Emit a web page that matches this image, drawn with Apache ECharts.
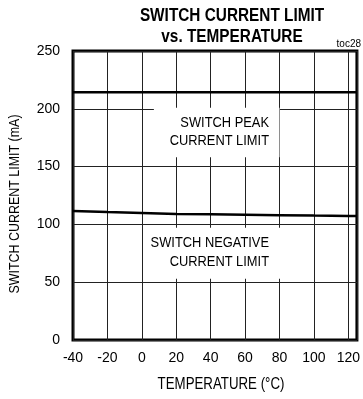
<!DOCTYPE html>
<html>
<head>
<meta charset="utf-8">
<script src="https://cdn.jsdelivr.net/npm/echarts@6/dist/echarts.min.js"></script>
<style>
  html, body { margin: 0; padding: 0; background: #fff; }
  #chart { width: 363px; height: 399px; }
</style>
</head>
<body>
<div id="chart"></div>
<script>
// Temperature sweep (°C) and measured switch current limits (mA)
const temps = [-40, -20, 0, 20, 40, 60, 80, 100, 120, 125];
const peakLimit = [214.3, 214.3, 214.3, 214.3, 214.3, 214.3, 214.3, 214.3, 214.3, 214.3];
const negativeLimit = [111.6, 110.7, 109.9, 109.0, 108.8, 108.4, 108.0, 107.6, 107.3, 107.2];

// Axis settings
const xTicks = { min: -40, max: 125, step: 20 };
const yTicks = { min: 0, max: 250, step: 50 };

// Text
const titleLines = ['SWITCH CURRENT LIMIT', 'vs. TEMPERATURE'];
const xName = 'TEMPERATURE (°C)';
const yName = 'SWITCH CURRENT LIMIT (mA)';
const peakLines = ['SWITCH PEAK', 'CURRENT LIMIT'];
const negativeLines = ['SWITCH NEGATIVE', 'CURRENT LIMIT'];

const FONT = '"Liberation Sans", Arial, sans-serif';
const NARROW = 0.83;   // horizontal squeeze for a narrow-face look

const pairs = (ys) => temps.map((t, i) => [t, ys[i]]);

// Horizontally condensed text element
function narrowText(x, y, text, font, align, rotation) {
  return {
    type: 'text', z: 20, x: x, y: y, rotation: rotation || 0,
    scaleX: NARROW, scaleY: 1,
    style: { x: 0, y: 0, text: text, align: align || 'center', verticalAlign: 'middle', font: font, fill: '#000' }
  };
}

const chart = echarts.init(document.getElementById('chart'), null, { renderer: 'canvas' });

chart.setOption({
  animation: false,
  backgroundColor: '#fff',
  textStyle: { fontFamily: FONT, color: '#000' },
  grid: {
    left: 73, right: 1, top: 51, bottom: 59,
    show: true, borderColor: '#000', borderWidth: 3, backgroundColor: 'transparent'
  },
  graphic: [
    narrowText(232, 16, titleLines[0], 'bold 18.5px ' + FONT),
    narrowText(232, 37, titleLines[1], 'bold 18.5px ' + FONT),
    {
      type: 'text', z: 20, x: 361, y: 44,
      style: { x: 0, y: 0, text: 'toc28', align: 'right', verticalAlign: 'middle', font: '10px ' + FONT, fill: '#000' }
    },
    narrowText(15, 204, yName, '15px ' + FONT, 'center', Math.PI / 2),
    narrowText(221, 385, xName, '16px ' + FONT),
    narrowText(269, 123, peakLines[0], '15.5px ' + FONT, 'right'),
    narrowText(269, 141, peakLines[1], '15.5px ' + FONT, 'right'),
    narrowText(269, 243, negativeLines[0], '15.5px ' + FONT, 'right'),
    narrowText(269, 262, negativeLines[1], '15.5px ' + FONT, 'right')
  ],
  xAxis: {
    type: 'value',
    min: xTicks.min, max: xTicks.max, interval: xTicks.step,
    axisLine: { show: false },
    axisTick: { show: false },
    axisLabel: {
      fontSize: 14, color: '#000', margin: 11, fontFamily: FONT,
      formatter: (v) => (v % xTicks.step === 0 ? String(v) : '')
    },
    splitLine: { show: true, lineStyle: { color: '#222', width: 1 } }
  },
  yAxis: {
    type: 'value',
    min: yTicks.min, max: yTicks.max, interval: yTicks.step,
    axisLine: { show: false },
    axisTick: { show: false },
    axisLabel: { fontSize: 14, color: '#000', margin: 13, fontFamily: FONT },
    splitLine: { show: true, lineStyle: { color: '#222', width: 1 } }
  },
  series: [
    {
      name: 'peak',
      type: 'line',
      data: pairs(peakLimit),
      showSymbol: false,
      lineStyle: { color: '#000', width: 2.5 },
      z: 5
    },
    {
      name: 'negative',
      type: 'line',
      data: pairs(negativeLimit),
      showSymbol: false,
      lineStyle: { color: '#000', width: 2.5 },
      z: 5,
      // white panels behind the curve annotations
      markArea: {
        silent: true,
        itemStyle: { color: '#fff', opacity: 1, borderWidth: 0 },
        label: { show: false },
        data: [
          [{ xAxis: 7, yAxis: 158 }, { xAxis: 80, yAxis: 201 }],
          [{ xAxis: 4, yAxis: 53 }, { xAxis: 81, yAxis: 97 }]
        ]
      }
    }
  ]
});
</script>
</body>
</html>
